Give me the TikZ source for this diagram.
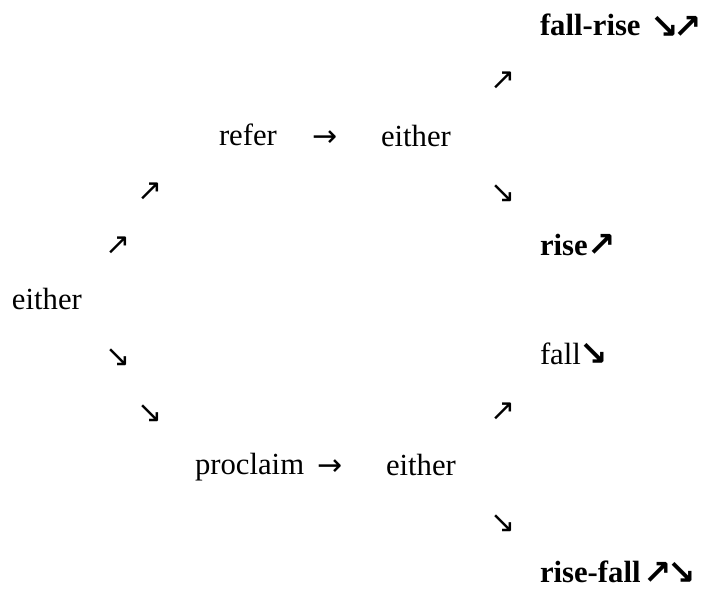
\documentclass[tikz,border=0pt]{standalone}
\usepackage{fontspec}
\setmainfont{Liberation Serif}
\newfontfamily\symfont{DejaVu Sans}
\begin{document}
\begin{tikzpicture}[x=1pt,y=-1pt,
  every node/.style={inner sep=0pt,outer sep=0pt,font=\fontsize{30.7}{36}\selectfont},
  word/.style={anchor=base west},
  bword/.style={anchor=base west,font=\fontsize{30.7}{36}\selectfont\bfseries},
  arr/.style={anchor=center,font=\fontsize{30}{36}\selectfont\symfont},
  harr/.style={anchor=center,font=\fontsize{34}{36}\selectfont\symfont\bfseries}]
\useasboundingbox (0,0) rectangle (702,590);
% words
\node[bword] (fallrise) at (540,35) {fall-rise};
\node[harr] (fallriseA1) at (665,27) {↘};
\node[harr] (fallriseA2) at (688,27) {↗};
\node[word] (refer) at (219,145) {refer};
\node[word] (either1) at (381,146) {either};
\node[bword] (rise) at (540,255) {rise};
\node[harr] (riseA) at (602,245) {↗};
\node[word] (either0) at (12,309) {either};
\node[word] (fall) at (540,364) {fall};
\node[harr] (fallA) at (594,354) {↘};
\node[bword] (risefall) at (540,582) {rise-fall};
\node[harr] (risefallA1) at (658,573) {↗};
\node[harr] (risefallA2) at (682,573) {↘};
\node[word] (proclaim) at (195,474) {proclaim};
\node[word] (either2) at (386,475) {either};
% arrow glyphs
\node[arr] (a1) at (503,81) {↗};
\node[arr] (a2) at (503,194) {↘};
\node[arr] (a3) at (150,192) {↗};
\node[arr] (a4) at (118,246) {↗};
\node[arr] (a5) at (118,358) {↘};
\node[arr] (a6) at (150,414) {↘};
\node[arr] (a7) at (503,412) {↗};
\node[arr] (a8) at (503,524) {↘};
\node[arr] (r1) at (325,139) {→};
\node[arr] (r2) at (330,468) {→};
\end{tikzpicture}
\end{document}
